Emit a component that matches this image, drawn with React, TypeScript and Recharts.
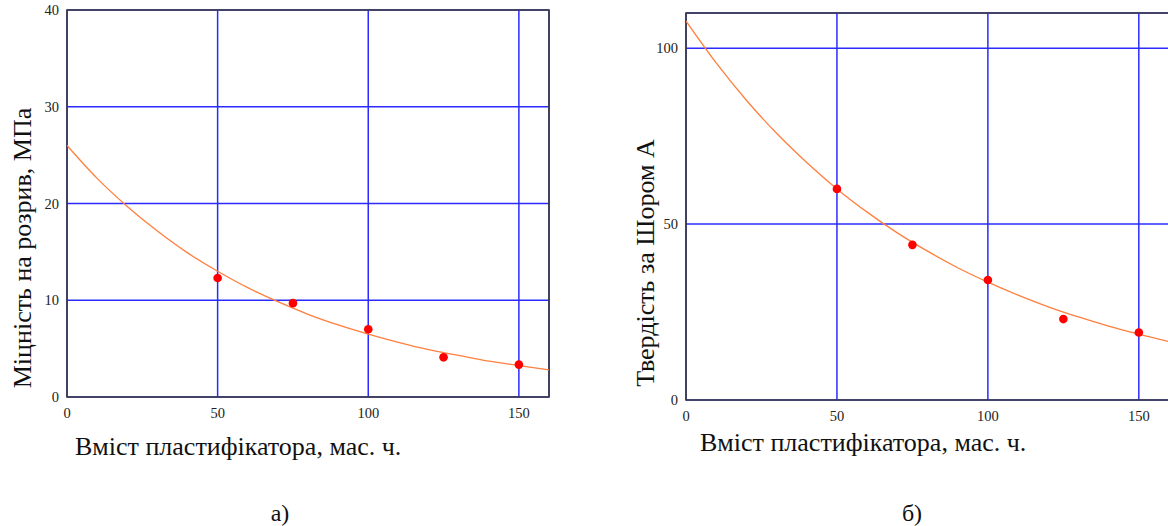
import React from 'react';
import {
  ComposedChart,
  Line,
  Scatter,
  XAxis,
  YAxis,
  CartesianGrid,
  ReferenceArea,
} from 'recharts';

// plasticizer content, mas. parts
const xCurve = [0, 10, 20, 30, 40, 50, 60, 70, 80, 90, 100, 110, 120, 130, 140, 150, 160];
const tensileCurve = [26.0, 22.6, 19.7, 17.15, 14.9, 13.0, 11.3, 9.85, 8.55, 7.45, 6.5, 5.65, 4.9, 4.3, 3.7, 3.25, 2.8];
const hardnessCurve = [107.7, 95.8, 85.2, 75.8, 67.5, 60.0, 53.4, 47.5, 42.3, 37.6, 33.5, 29.8, 26.5, 23.6, 21.0, 18.7, 16.6];

const xPoints = [50, 75, 100, 125, 150];
const tensilePoints = [12.3, 9.7, 7.0, 4.1, 3.35];
const hardnessPoints = [60.0, 44.1, 34.1, 23.0, 19.2];

const xTicks = [0, 50, 100, 150];
const tensileTicks = [0, 10, 20, 30, 40];
const hardnessTicks = [0, 50, 100];

const xTitle = 'Вміст пластифікатора, мас. ч.';
const tensileTitle = 'Міцність на розрив, МПа';
const hardnessTitle = 'Твердість за Шором А';

const FONT = '"Liberation Serif", "Times New Roman", serif';
const tickStyle = { fontFamily: FONT, fontSize: 14.5, fill: '#222' };

const dot = (props: any) => <circle cx={props.cx} cy={props.cy} r={4.3} fill="#ff0000" />;

type PanelProps = {
  curve: number[];
  points: number[];
  yTicks: number[];
  yMax: number;
  width: number;
  height: number;
  margin: { top: number; right: number; left: number; bottom: number };
};

const Panel = ({ curve, points, yTicks, yMax, width, height, margin }: PanelProps) => {
  const curveData = xCurve.map((x, i) => ({ x, y: curve[i] }));
  const pointData = xPoints.map((x, i) => ({ x, y: points[i] }));
  return (
    <ComposedChart width={width} height={height} margin={margin}>
      <CartesianGrid stroke="#2b2bff" strokeWidth={1.5} />
      <XAxis
        dataKey="x"
        type="number"
        domain={[0, 160]}
        ticks={xTicks}
        axisLine={false}
        tickLine={false}
        tickMargin={5}
        height={23}
        tick={tickStyle}
        allowDataOverflow
      />
      <YAxis
        dataKey="y"
        type="number"
        domain={[0, yMax]}
        ticks={yTicks}
        axisLine={false}
        tickLine={false}
        tickMargin={2}
        width={30}
        tick={tickStyle}
        allowDataOverflow
      />
      <ReferenceArea x1={0} x2={160} y1={0} y2={yMax} fill="none" stroke="#3a3a3a" strokeWidth={1.6} ifOverflow="visible" />
      <Line
        data={curveData}
        dataKey="y"
        type="monotone"
        stroke="#ff7f3f"
        strokeWidth={1.3}
        dot={false}
        isAnimationActive={false}
      />
      <Scatter data={pointData} dataKey="y" shape={dot} isAnimationActive={false} />
    </ComposedChart>
  );
};

const textBase: React.CSSProperties = {
  position: 'absolute',
  fontFamily: FONT,
  color: '#111',
  whiteSpace: 'nowrap',
  lineHeight: 1,
};

export default function App() {
  return (
    <div style={{ position: 'absolute', left: 0, top: 0, width: 1168, height: 526, overflow: 'hidden', background: '#fff' }}>
      <div style={{ position: 'absolute', left: 0, top: 0 }}>
        <Panel
          curve={tensileCurve}
          points={tensilePoints}
          yTicks={tensileTicks}
          yMax={40}
          width={560}
          height={420}
          margin={{ top: 10, right: 11, left: 37, bottom: 0 }}
        />
      </div>
      <div style={{ position: 'absolute', left: 600, top: 0 }}>
        <Panel
          curve={hardnessCurve}
          points={hardnessPoints}
          yTicks={hardnessTicks}
          yMax={110}
          width={571}
          height={423}
          margin={{ top: 13, right: 2, left: 56, bottom: 0 }}
        />
      </div>

      <div style={{ ...textBase, fontSize: 26, left: 23, top: 248, transform: 'translate(-50%, -50%) rotate(-90deg)' }}>
        {tensileTitle}
      </div>
      <div style={{ ...textBase, fontSize: 26, left: 646, top: 263, transform: 'translate(-50%, -50%) rotate(-90deg)' }}>
        {hardnessTitle}
      </div>

      <div style={{ ...textBase, fontSize: 26, left: 75, top: 434 }}>{xTitle}</div>
      <div style={{ ...textBase, fontSize: 26, left: 700, top: 430 }}>{xTitle}</div>

      <div style={{ ...textBase, fontSize: 24, left: 280, top: 513, transform: 'translate(-50%, -50%)' }}>а)</div>
      <div style={{ ...textBase, fontSize: 24, left: 912, top: 513, transform: 'translate(-50%, -50%)' }}>б)</div>
    </div>
  );
}
